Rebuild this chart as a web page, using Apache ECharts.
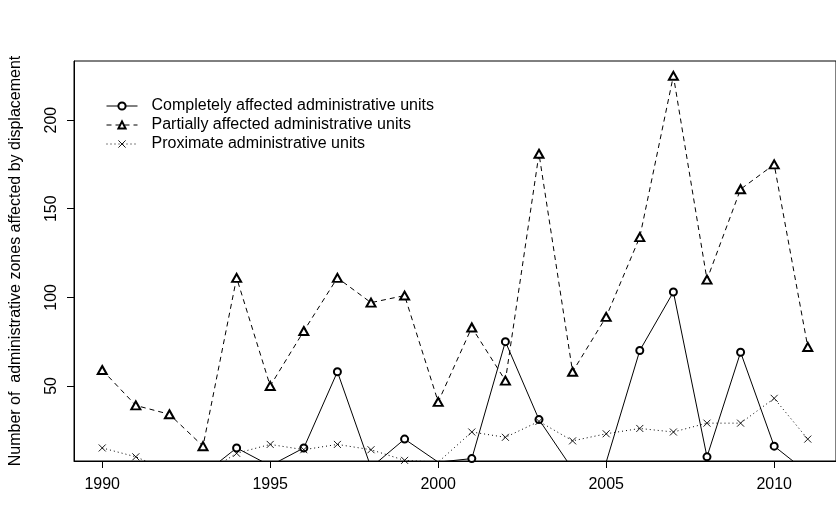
<!DOCTYPE html>
<html>
<head>
<meta charset="utf-8">
<script src="https://cdn.jsdelivr.net/npm/echarts@6/dist/echarts.min.js"></script>
<style>
  html, body { margin: 0; padding: 0; background: #fff; }
  #chart { width: 836px; height: 508px; }
</style>
</head>
<body>
<div id="chart"></div>
<script>
// Displacement by year: number of administrative zones affected
const years = [1990, 1991, 1992, 1993, 1994, 1995, 1996, 1997, 1998, 1999, 2000,
               2001, 2002, 2003, 2004, 2005, 2006, 2007, 2008, 2009, 2010, 2011];
const completely = [0, 0, 0, 0, 15, 5, 15, 58, 4, 20, 7,
                    9, 75, 31, 3, 7, 70, 103, 10, 69, 16, 1];
const partially = [59, 39, 34, 16, 111, 50, 81, 111, 97, 101, 41,
                   83, 53, 181, 58, 89, 134, 225, 110, 161, 175, 72];
const proximate = [15, 10, 2, 0, 12, 17, 14, 17, 14, 8, 7,
                   24, 21, 30, 19, 23, 26, 24, 29, 29, 43, 20];

const xTicks = [1990, 1995, 2000, 2005, 2010];
const yTicks = [50, 100, 150, 200];
const seriesNames = [
  'Completely affected administrative units',
  'Partially affected administrative units',
  'Proximate administrative units'
];

// axis ranges padded by 4% of the data range on each side
const xPad = (years[years.length - 1] - years[0]) * 0.04;
const yLo = Math.min(...partially), yHi = Math.max(...partially);
const yPad = (yHi - yLo) * 0.04;

const pairs = vals => years.map((y, i) => [y, vals[i]]);
const FONT = '"Liberation Sans", Arial, Helvetica, sans-serif';
const crossPath = 'path://M0,0L10,10M10,0L0,10';

const chart = echarts.init(document.getElementById('chart'), null, { renderer: 'canvas' });
chart.setOption({
  animation: false,
  backgroundColor: '#fff',
  textStyle: { fontFamily: FONT, color: '#000' },
  grid: {
    left: 74, top: 61, bottom: 47, right: -12,
    show: true, borderColor: '#000', borderWidth: 1, backgroundColor: 'transparent'
  },
  legend: {
    orient: 'vertical',
    left: 106, top: 97,
    padding: 0,
    itemWidth: 31, itemHeight: 9, itemGap: 1,
    lineStyle: { width: 1 },
    itemStyle: { borderWidth: 0.9 },
    textStyle: { fontFamily: FONT, fontSize: 16, color: '#000', padding: [0, 0, 0, 9], lineHeight: 18 },
    data: seriesNames
  },
  xAxis: {
    type: 'value',
    min: years[0] - xPad,
    max: years[years.length - 1] + xPad,
    splitLine: { show: false },
    axisLine: { show: true, onZero: false, lineStyle: { color: '#000', width: 1 } },
    axisTick: { show: true, length: 7, customValues: xTicks, lineStyle: { color: '#000' } },
    axisLabel: {
      customValues: xTicks, fontSize: 16, color: '#000', margin: 16, fontFamily: FONT,
      formatter: v => String(v)
    }
  },
  yAxis: {
    type: 'value',
    min: yLo - yPad,
    max: yHi + yPad,
    name: 'Number of  administrative zones affected by displacement',
    nameLocation: 'middle',
    nameGap: 50,
    nameRotate: 90,
    nameTextStyle: { fontSize: 16, color: '#000', fontFamily: FONT },
    splitLine: { show: false },
    axisLine: { show: true, onZero: false, lineStyle: { color: '#000', width: 1 } },
    axisTick: { show: true, length: 7, customValues: yTicks, lineStyle: { color: '#000' } },
    axisLabel: {
      customValues: yTicks, rotate: 90, fontSize: 16, color: '#000', margin: 14, fontFamily: FONT,
      formatter: v => String(v)
    }
  },
  series: [
    {
      name: seriesNames[0],
      type: 'line',
      data: pairs(completely),
      symbol: 'emptyCircle',
      symbolSize: 7,
      lineStyle: { color: '#000', width: 1, type: 'solid' },
      itemStyle: { color: '#000', borderColor: '#000', borderWidth: 0.9 },
      clip: true
    },
    {
      name: seriesNames[1],
      type: 'line',
      data: pairs(partially),
      symbol: 'emptyTriangle',
      symbolSize: [9, 8],
      lineStyle: { color: '#000', width: 1, type: [5, 4] },
      itemStyle: { color: '#000', borderColor: '#000', borderWidth: 0.9 },
      clip: true
    },
    {
      name: seriesNames[2],
      type: 'line',
      data: pairs(proximate),
      symbol: crossPath,
      symbolSize: 7,
      lineStyle: { color: '#000', width: 1, type: [1, 3] },
      itemStyle: { color: '#000', borderColor: '#000', borderWidth: 0.9 },
      clip: true
    }
  ]
});
</script>
</body>
</html>
